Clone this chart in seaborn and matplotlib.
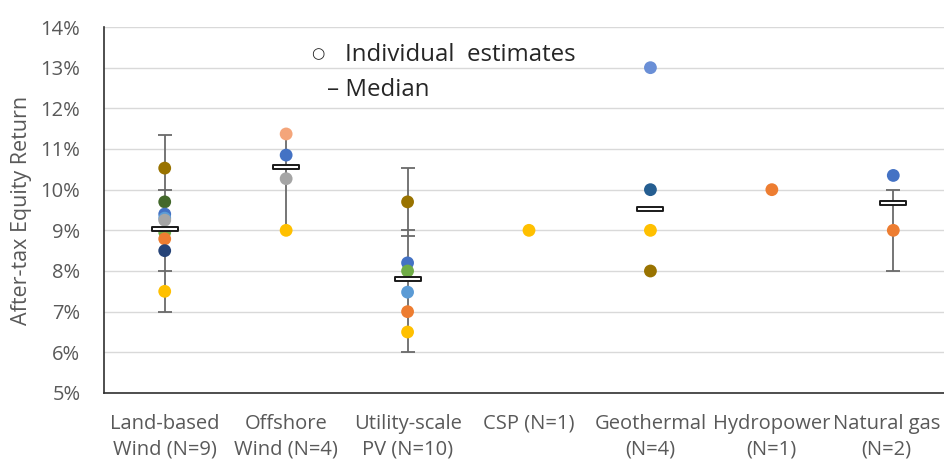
import numpy as np
import pandas as pd
import matplotlib
matplotlib.use("Agg")
import matplotlib.pyplot as plt
import matplotlib.transforms as mtransforms
from matplotlib.path import Path
import seaborn as sns

# ---------------- data ----------------
categories = ["Land-based\nWind (N=9)", "Offshore\nWind (N=4)", "Utility-scale\nPV (N=10)",
              "CSP (N=1)", "Geothermal\n(N=4)", "Hydropower\n(N=1)", "Natural gas\n(N=2)"]

pt_category = [0, 0, 0, 0, 0, 0, 0, 0, 0,
               1, 1, 1, 1,
               2, 2, 2, 2, 2, 2,
               3,
               4, 4, 4, 4,
               5,
               6, 6]
pt_value = [10.53, 9.70, 9.40, 9.30, 9.25, 8.95, 8.79, 8.50, 7.50,
            11.37, 10.85, 10.27, 9.00,
            9.70, 8.20, 8.00, 7.48, 7.00, 6.50,
            9.00,
            13.00, 10.00, 9.00, 8.00,
            10.00,
            10.35, 9.00]
pt_color = ["#997300", "#43682B", "#4472C4", "#5B9BD5", "#A5A5A5", "#70AD47", "#ED7D31", "#264478", "#FFC000",
            "#F4A57A", "#4472C4", "#A5A5A5", "#FFC000",
            "#997300", "#4472C4", "#70AD47", "#5B9BD5", "#ED7D31", "#FFC000",
            "#FFC000",
            "#6A8FD6", "#255E91", "#FFC000", "#997300",
            "#ED7D31",
            "#4472C4", "#ED7D31"]

median_values = [9.03, 10.56, 7.80, np.nan, 9.53, np.nan, 9.68]

whisker_low = [7.00, 9.00, 6.00, np.nan, np.nan, np.nan, 8.00]
whisker_high = [11.35, 11.40, 10.53, np.nan, np.nan, np.nan, 10.00]
whisker_caps = [[7.00, 8.00, 10.00, 11.35], [], [6.00, 8.85, 9.00, 10.53], [], [], [], [8.00, 10.00]]

y_ticks = [5, 6, 7, 8, 9, 10, 11, 12, 13, 14]

# ---------------- figure ----------------
sns.set_theme(style="white")
plt.rcParams["font.family"] = ["Open Sans", "DejaVu Sans"]

fig = plt.figure(figsize=(9.44, 4.62), dpi=100)
ax = fig.add_axes([104 / 944, 1 - 393 / 462, 850 / 944, (393 - 27) / 462])

ax.set_xlim(-0.5, 6.5)
ax.set_ylim(5, 14)
ax.set_yticks(y_ticks)
ax.set_yticklabels([f"{t}%" for t in y_ticks])
ax.yaxis.grid(True, color="#D9D9D9", linewidth=1.0)
ax.set_axisbelow(True)

# whiskers
wcol = "#6A6A6A"
for i in range(len(categories)):
    if not np.isnan(whisker_low[i]):
        ax.vlines(i, whisker_low[i], whisker_high[i], color=wcol, linewidth=1.3, zorder=2)
    for c in whisker_caps[i]:
        ax.hlines(c, i - 0.058, i + 0.058, color=wcol, linewidth=1.3, zorder=2)

df = pd.DataFrame({"pos": pt_category, "value": pt_value, "color": pt_color})
sns.scatterplot(data=df, x="pos", y="value", hue="color",
                palette={c: c for c in set(pt_color)}, legend=False,
                s=85, linewidth=0, ax=ax, zorder=3)

rect = Path([(-1, -0.17), (1, -0.17), (1, 0.17), (-1, 0.17), (-1, -0.17)],
            [Path.MOVETO, Path.LINETO, Path.LINETO, Path.LINETO, Path.CLOSEPOLY])
mdf = pd.DataFrame({"pos": list(range(len(categories))), "value": median_values}).dropna()
sns.scatterplot(data=mdf, x="pos", y="value", marker=rect, s=19 ** 2,
                color="white", edgecolor="#1A1A1A", linewidth=1.4, ax=ax, zorder=4)

ax.set_xticks(range(len(categories)))
ax.set_xticklabels(categories, linespacing=1.35)
ax.set_xlabel("")
ax.set_ylabel("After-tax Equity Return", fontsize=15.5, color="#595959", labelpad=6)
ax.tick_params(axis="x", length=0, pad=15, labelsize=14.5, labelcolor="#595959")
ax.tick_params(axis="y", length=0, pad=17, labelsize=14.5, labelcolor="#595959")

# nudge the last (edge) label slightly left so it stays inside the canvas
last = ax.get_xticklabels()[-1]
last.set_transform(last.get_transform() + mtransforms.ScaledTranslation(-7 / 100, 0, fig.dpi_scale_trans))

for side in ["top", "right"]:
    ax.spines[side].set_visible(False)
for side in ["left", "bottom"]:
    ax.spines[side].set_color("#303030")
    ax.spines[side].set_linewidth(1.2)

fig.text(318 / 944, 1 - 55 / 462, "○", fontsize=11, color="#262626", va="center", ha="center")
fig.text(345 / 944, 1 - 55 / 462, "Individual  estimates", fontsize=17.3, color="#262626", va="center")
fig.text(327 / 944, 1 - 90 / 462, "– Median", fontsize=17.3, color="#262626", va="center")

fig.savefig("out.png", dpi=100)
